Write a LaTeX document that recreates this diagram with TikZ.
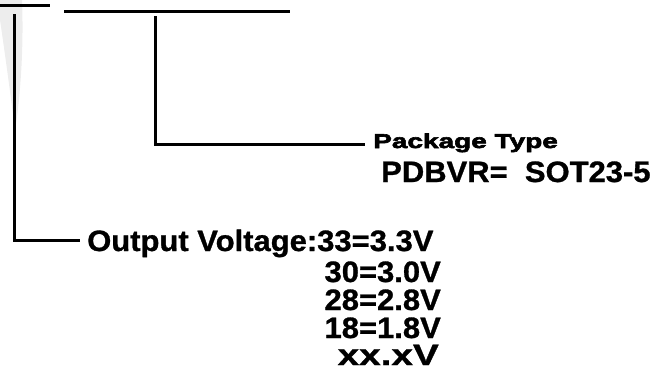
\documentclass[tikz,border=0pt]{standalone}
\usepackage{fontspec}
\newfontfamily\lab[FakeStretch=1.05,FakeBold=1]{Liberation Sans}
\newfontfamily\heavy[FakeStretch=1.4,FakeBold=3]{Liberation Sans}
\begin{document}
\begin{tikzpicture}[x=1pt,y=-1pt,
  wire/.style={line width=3pt,black},
  txt/.style={inner sep=0pt,font=\lab\bfseries\fontsize{29.5}{29}\selectfont},
  hdr/.style={inner sep=0pt,font=\heavy\bfseries\fontsize{20}{20}\selectfont}]
\useasboundingbox (0,0) rectangle (655,376);
% faint watermark
\fill[gray!14] (0,0) -- (22,0) .. controls (24,50) and (20,100) .. (15,130)
  .. controls (10,90) and (3,40) .. (0,20) -- cycle;
% top bars
\coordinate (t1a) at (0,5); \coordinate (t1b) at (50,5);
\coordinate (t2a) at (64,11); \coordinate (t2b) at (290,11);
\draw[wire] (t1a) -- (t1b);
\draw[wire] (t2a) -- (t2b);
% texts
\node[hdr,anchor=base west] (pkg) at (373,148) {Package Type};
\node[txt,anchor=base west] (pdb) at (381,182) {PDBVR=\ \ SOT23-5};
\node[txt,anchor=base west] (ov) at (87,251) {Output Voltage:33=3.3V};
\node[txt,anchor=base east] (v30) at (441,282) {30=3.0V};
\node[txt,anchor=base east] (v28) at (441,310) {28=2.8V};
\node[txt,anchor=base east] (v18) at (441,338) {18=1.8V};
\node[txt,anchor=base east] (vxx) at (439,365) {\scalebox{1.25}[1]{xx.xV}};
% connectors
\coordinate (la) at (14,14); \coordinate (lb) at (80,240);
\coordinate (ma) at (155,16); \coordinate (mb) at (365,144);
\draw[wire] (la) |- (lb);
\draw[wire] (ma) |- (mb);
\end{tikzpicture}
\end{document}
